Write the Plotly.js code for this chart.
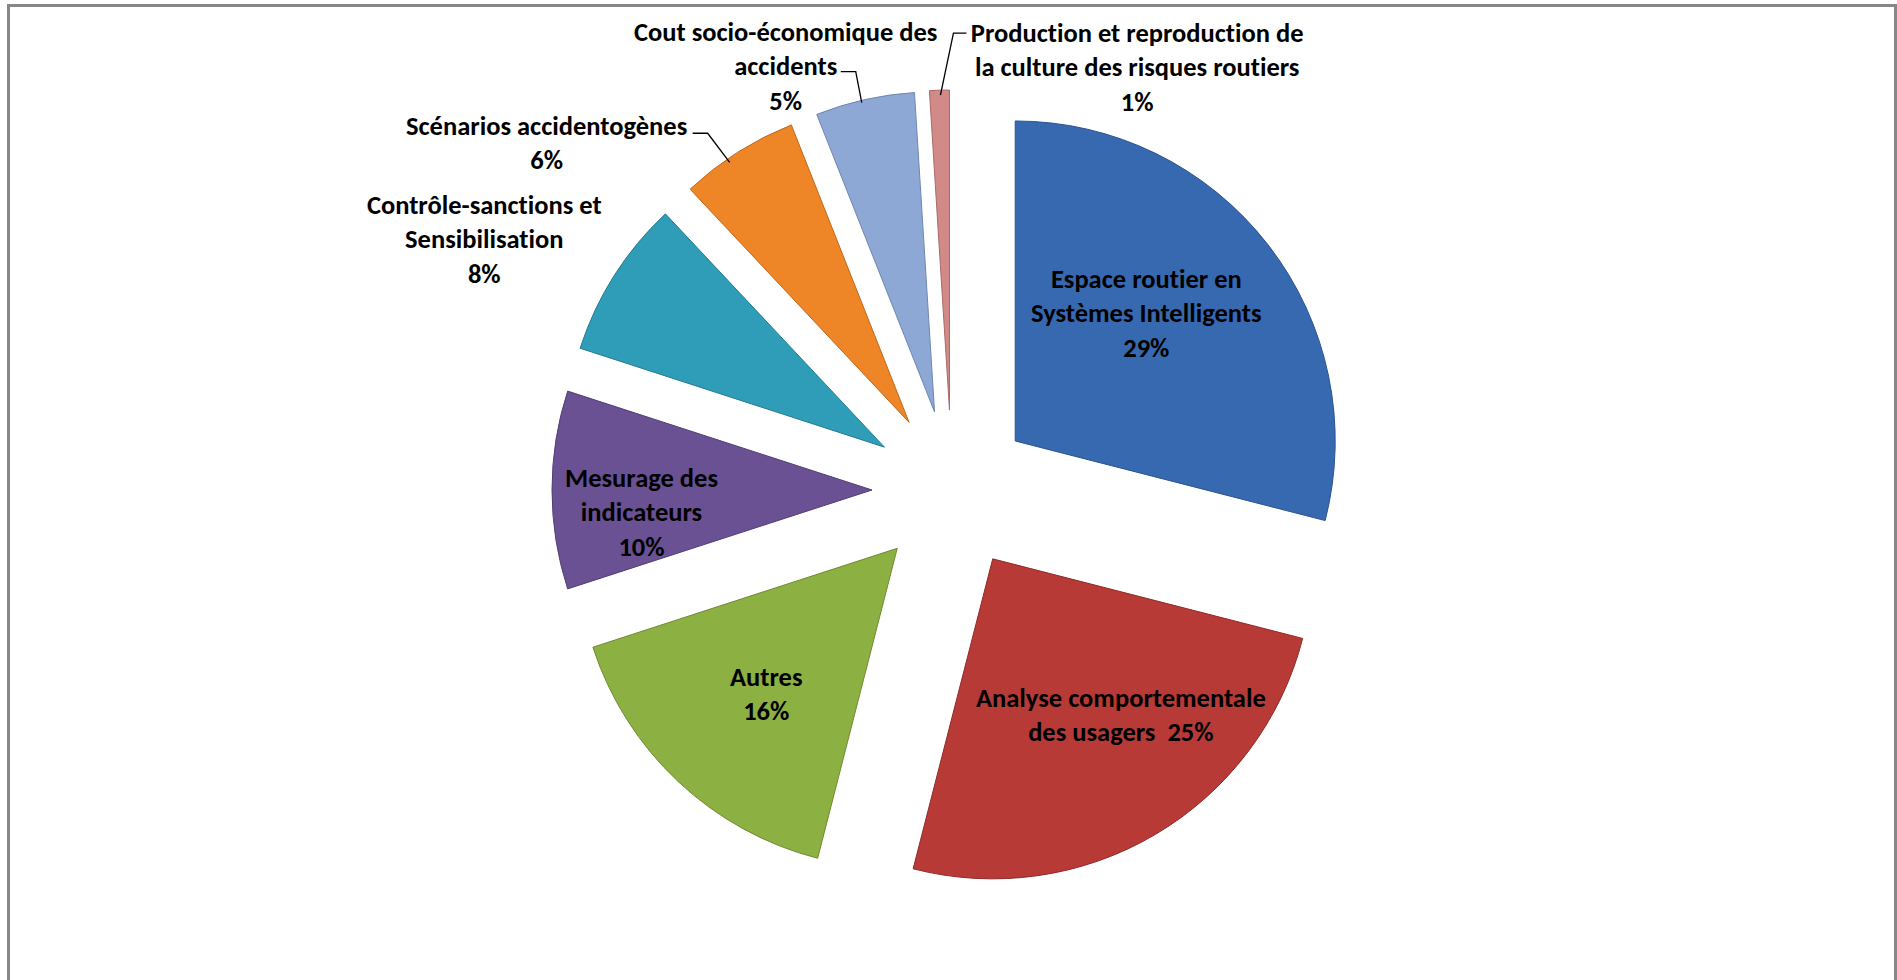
<!DOCTYPE html>
<html>
<head>
<meta charset="utf-8">
<script src="https://cdn.plot.ly/plotly-3.0.1.min.js"></script>
<style>
  html, body { margin: 0; padding: 0; background: #ffffff; overflow: hidden; }
  #frame { position: absolute; left: 7px; top: 4px; width: 1890px; height: 1000px;
           border-left: 3px solid #878787; border-top: 3px solid #878787; border-right: 3px solid #878787; box-sizing: border-box; }
  #chart { position: absolute; left: 0; top: 0; width: 1897px; height: 980px; }
  #chart text { font-variant-ligatures: none; font-feature-settings: "liga" 0, "clig" 0; }
</style>
</head>
<body>
<div id="frame"></div>
<div id="chart"></div>
<script>
// ---- data ----
const categories = [
  "Espace routier en Systèmes Intelligents",
  "Analyse comportementale des usagers",
  "Autres",
  "Mesurage des indicateurs",
  "Contrôle-sanctions et Sensibilisation",
  "Scénarios accidentogènes",
  "Cout socio-économique des accidents",
  "Production et reproduction de la culture des risques routiers"
];
const values = [29, 25, 16, 10, 8, 6, 5, 1];
const wrappedLabels = [
  "Espace routier en<br>Systèmes Intelligents",
  "Analyse comportementale<br>des usagers",
  "Autres",
  "Mesurage des<br>indicateurs",
  "Contrôle-sanctions et<br>Sensibilisation",
  "Scénarios accidentogènes",
  "Cout socio-économique des<br>accidents",
  "Production et reproduction de<br>la culture des risques routiers"
];
const percentSeparators = ["<br>", "\u00a0\u00a0", "<br>", "<br>", "<br>", "<br>", "<br>", "<br>"];

// ---- styles ----
const FONT = "Carlito, Calibri, Lato, 'Open Sans', sans-serif";
const FSIZE = 26.5;
const colors = ["#3769B0", "#B83A37", "#8DB043", "#6A5193", "#309DB8", "#EE8527", "#8DA8D5", "#D28A88"];
const edgeColors = ["#2B548E", "#8F2A28", "#6E8A32", "#523E74", "#237A90", "#C0671B", "#6E87B0", "#A86A68"];
const pulls = [0.25, 0.25, 0.25, 0.25, 0.25, 0.25, 0.25, 0.25];

// label placement: pixel offsets from each slice's outer mid point (computed by Plotly), optional leader line
const labelStyle = {
  0: { shift: [-122, 69],  leader: null },
  1: { shift: [-35, -119], leader: null },
  2: { shift: [88, -88],   leader: null },
  3: { shift: [89, 22],    leader: null },
  4: { shift: [-130, -36], leader: null },
  5: { shift: [-191, -9],  leader: [[-45, -19], [-30, -19], [-8, 10]] },
  6: { shift: [-79, -33],  leader: [[-24, -28], [-9, -28], [-3, 3]] },
  7: { shift: [198, -23],  leader: [[27, -57], [14, -57], [1, 5]] }
};

const trace = {
  type: "pie",
  labels: categories,
  values: values,
  textposition: "none",
  sort: false,
  direction: "clockwise",
  rotation: 0,
  pull: pulls,
  marker: { colors: colors, line: { color: edgeColors, width: 1 } },
  hoverinfo: "label+percent",
  showlegend: false
};

const M = { l: 552, r: 545, t: 90, b: 90 };
const W = 1897, H = 980;
const layout = {
  width: W,
  height: H,
  margin: M,
  paper_bgcolor: "rgba(0,0,0,0)",
  plot_bgcolor: "rgba(0,0,0,0)",
  showlegend: false
};

Plotly.newPlot("chart", [trace], layout, { displayModeBar: false, staticPlot: true }).then(gd => {
  const cd = gd.calcdata[0];
  const cd0 = cd[0];
  const pw = W - M.l - M.r, ph = H - M.t - M.b;
  const toPX = px => (px - M.l) / pw;
  const toPY = py => 1 - (py - M.t) / ph;
  const annotations = [];
  const shapes = [];
  cd.forEach(pt => {
    const i = pt.i;
    const st = labelStyle[i];
    const hx = cd0.cx + (1 + pulls[i]) * pt.pxmid[0];
    const hy = cd0.cy + (1 + pulls[i]) * pt.pxmid[1];
    annotations.push({
      xref: "paper", yref: "paper",
      x: toPX(hx), y: toPY(hy),
      xshift: st.shift[0], yshift: -st.shift[1],
      text: wrappedLabels[i] + percentSeparators[i] + values[i] + "%",
      showarrow: false, align: "center",
      xanchor: "center", yanchor: "middle",
      font: { family: FONT, size: FSIZE, color: "#000000", weight: "bold" }
    });
    if (st.leader) {
      const p = st.leader.map(o => [toPX(hx + o[0]), toPY(hy + o[1])]);
      shapes.push({
        type: "path", xref: "paper", yref: "paper",
        path: "M " + p[0][0] + "," + p[0][1] + " L " + p[1][0] + "," + p[1][1] + " L " + p[2][0] + "," + p[2][1],
        line: { color: "#000000", width: 1.3 }
      });
    }
  });
  return Plotly.relayout(gd, { annotations: annotations, shapes: shapes });
});
</script>
</body>
</html>
